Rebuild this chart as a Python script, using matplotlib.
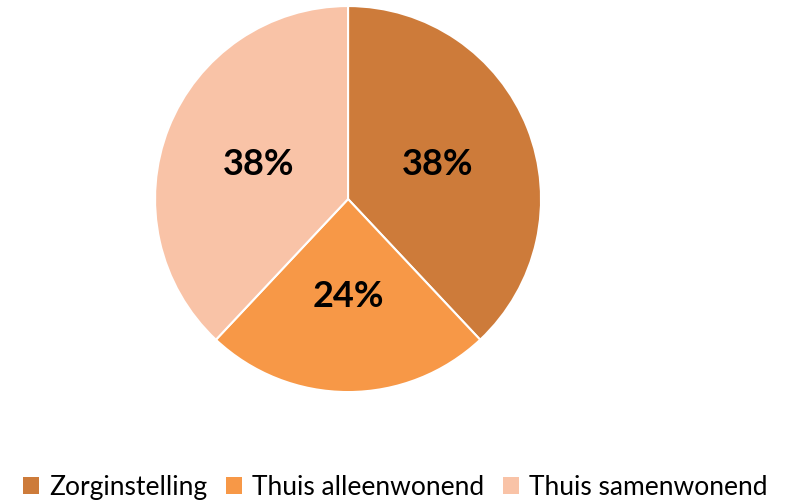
import matplotlib.pyplot as plt
from matplotlib.patches import Patch

plt.rcParams["font.family"] = ["Lato", "DejaVu Sans"]

categories = ["Zorginstelling", "Thuis alleenwonend", "Thuis samenwonend"]
shares = [38, 24, 38]
colors = ["#CD7B3A", "#F79847", "#F9C3A7"]

fig = plt.figure(figsize=(7.91, 5.02), dpi=100)
ax = fig.add_axes([0.196, 0.217, 0.488, 0.769])

wedges, texts, autotexts = ax.pie(
    shares,
    colors=colors,
    startangle=90,
    counterclock=False,
    autopct="%d%%",
    pctdistance=0.5,
    wedgeprops=dict(edgecolor="white", linewidth=1.5),
    textprops=dict(fontsize=26, fontweight="bold", color="black"),
)
ax.set_xlim(-1, 1)
ax.set_ylim(-1, 1)
ax.set_aspect("equal")

handles = [Patch(facecolor=c, edgecolor="none") for c in colors]
fig.legend(
    handles,
    categories,
    loc="center",
    bbox_to_anchor=(0.5, 0.028),
    ncol=3,
    frameon=False,
    fontsize=19,
    handlelength=0.6,
    handleheight=0.6,
    handletextpad=0.4,
    columnspacing=0.7,
)

fig.savefig("out.png", dpi=100)
